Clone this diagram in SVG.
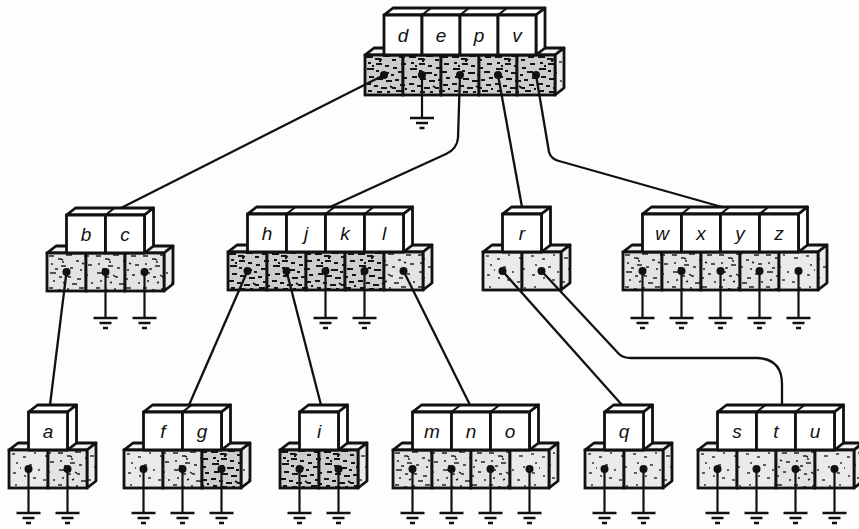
<svg xmlns="http://www.w3.org/2000/svg" width="859" height="529" viewBox="0 0 859 529">
<defs>
<pattern id="spk" patternUnits="userSpaceOnUse" width="47" height="41">
<rect width="47" height="41" fill="#e3e3e3"/>
<path d="M2,3h5M11,6h3l2,1M19,2h6M29,8h3M37,3h5M4,11h2M14,13h5M23,15h3M33,17h2M41,12h4M3,20h6M12,24h3M19,22l3,2h2M30,26h4M38,22h3M6,28h2M25,31h5M15,9h2M8,16h3M44,30h2M2,35h4M11,37h3M20,36h2M32,35h5M40,38h4M16,30l2,-1M35,10l2,1" stroke="#222" stroke-width="1.5" fill="none"/>
</pattern>
<pattern id="spkd" patternUnits="userSpaceOnUse" width="43" height="39">
<rect width="43" height="39" fill="#cdcdcd"/>
<path d="M1,2h7M10,4h5l2,1M18,1h7M27,5h4M34,2h6M3,8h3M11,9h6M20,11h4M28,13h4M36,9h5M2,14h7M11,16h3M17,18h7M26,20h3M33,17h6M4,22h5M12,24h6M21,26h6M30,25h4M38,23h4M7,11h2M14,6h2M1,29h5M9,31h4M16,33h6M25,31l3,2h3M35,30h5M3,36h4M12,37h5M22,37h3M31,36h6M40,34h2" stroke="#131313" stroke-width="1.8" fill="none"/>
</pattern>
<pattern id="spks" patternUnits="userSpaceOnUse" width="45" height="43">
<rect width="45" height="43" fill="#eaeaea"/>
<path d="M3,4h3M14,7h3M25,3h2M36,6h4M7,13h2M20,15h3M29,20h2M40,17h2M4,23h3M15,26h2M24,28h3M11,18h1M34,30h3M6,35h2M19,38h3M30,39h2M41,36h2" stroke="#333" stroke-width="1.4" fill="none"/>
</pattern>
<g id="gnd"><path d="M-12,0H12M-6,5H6M-2.5,10H2.5" stroke="#111" stroke-width="2.3" fill="none"/></g>
</defs>
<style>
.pt{fill:#f3f3f3;stroke:#111;stroke-width:2.8;stroke-linejoin:round}
.ps{fill:url(#spks);stroke:#111;stroke-width:2.8;stroke-linejoin:round}
.pc{fill:url(#spk);stroke:#111;stroke-width:2.8}
.pd{fill:url(#spkd);stroke:#111;stroke-width:2.8}
.pl{fill:url(#spks);stroke:#111;stroke-width:2.8}
.kb{fill:#fff;stroke:#111;stroke-width:2.8;stroke-linejoin:round}
.dv{stroke:#111;stroke-width:2.2}
.dot{fill:#111}
.stem{stroke:#111;stroke-width:2.2}
.lb{font-family:"Liberation Sans",Arial,sans-serif;font-style:italic;font-size:19px;fill:#111;text-anchor:middle}
.conn{fill:none;stroke:#111;stroke-width:2.3;stroke-linejoin:round}
</style>
<rect width="859" height="529" fill="#fdfdfd"/>

<!-- root -->
<g id="node-root" transform="translate(365,55)">
<polygon class="pt" points="0,0 9,-7 199,-7 190,0"/>
<polygon class="ps" points="190,0 199,-7 199,33 190,40"/>
<rect class="pd" x="0" y="0" width="38" height="40"/><rect class="pd" x="38" y="0" width="38" height="40"/><rect class="pd" x="76" y="0" width="38" height="40"/><rect class="pd" x="114" y="0" width="38" height="40"/><rect class="pd" x="152" y="0" width="38" height="40"/>
<polygon class="kb" points="19,-40 28,-47 180,-47 171,-40"/>
<path class="dv" d="M57,-40l9,-7M95,-40l9,-7M133,-40l9,-7"/>
<polygon class="kb" points="171,-40 180,-47 180,-7 171,0"/>
<rect class="kb" x="19" y="-40" width="38" height="40"/><rect class="kb" x="57" y="-40" width="38" height="40"/><rect class="kb" x="95" y="-40" width="38" height="40"/><rect class="kb" x="133" y="-40" width="38" height="40"/>
<text class="lb" x="38" y="-13">d</text><text class="lb" x="76" y="-13">e</text><text class="lb" x="114" y="-13">p</text><text class="lb" x="152" y="-13">v</text>
<circle class="dot" cx="19" cy="20" r="4"/><circle class="dot" cx="57" cy="20" r="4"/><circle class="dot" cx="95" cy="20" r="4"/><circle class="dot" cx="133" cy="20" r="4"/><circle class="dot" cx="171" cy="20" r="4"/>
<path class="stem" d="M57,20V63"/><use href="#gnd" x="57" y="63"/>
</g>

<!-- b c -->
<g id="node-bc" transform="translate(47,253)">
<polygon class="pt" points="0,0 9,-7 126,-7 117,0"/>
<polygon class="ps" points="117,0 126,-7 126,31 117,38"/>
<rect class="pc" x="0" y="0" width="39" height="38"/><rect class="pc" x="39" y="0" width="39" height="38"/><rect class="pc" x="78" y="0" width="39" height="38"/>
<polygon class="kb" points="19.5,-38 28.5,-45 106.5,-45 97.5,-38"/>
<path class="dv" d="M58.5,-38l9,-7"/>
<polygon class="kb" points="97.5,-38 106.5,-45 106.5,-7 97.5,0"/>
<rect class="kb" x="19.5" y="-38" width="39" height="38"/><rect class="kb" x="58.5" y="-38" width="39" height="38"/>
<text class="lb" x="39" y="-12">b</text><text class="lb" x="78" y="-12">c</text>
<circle class="dot" cx="19.5" cy="19" r="4"/><circle class="dot" cx="58.5" cy="19" r="4"/><circle class="dot" cx="97.5" cy="19" r="4"/>
<path class="stem" d="M58.5,19V65M97.5,19V65"/><use href="#gnd" x="58.5" y="65"/><use href="#gnd" x="97.5" y="65"/>
</g>

<!-- h j k l -->
<g id="node-hjkl" transform="translate(228,252)">
<polygon class="pt" points="0,0 9,-7 204,-7 195,0"/>
<polygon class="ps" points="195,0 204,-7 204,31 195,38"/>
<rect class="pd" x="0" y="0" width="39" height="38"/><rect class="pd" x="39" y="0" width="39" height="38"/><rect class="pd" x="78" y="0" width="39" height="38"/><rect class="pd" x="117" y="0" width="39" height="38"/><rect class="pc" x="156" y="0" width="39" height="38"/>
<polygon class="kb" points="19.5,-38 28.5,-45 184.5,-45 175.5,-38"/>
<path class="dv" d="M58.5,-38l9,-7M97.5,-38l9,-7M136.5,-38l9,-7"/>
<polygon class="kb" points="175.5,-38 184.5,-45 184.5,-7 175.5,0"/>
<rect class="kb" x="19.5" y="-38" width="39" height="38"/><rect class="kb" x="58.5" y="-38" width="39" height="38"/><rect class="kb" x="97.5" y="-38" width="39" height="38"/><rect class="kb" x="136.5" y="-38" width="39" height="38"/>
<text class="lb" x="39" y="-12">h</text><text class="lb" x="78" y="-12">j</text><text class="lb" x="117" y="-12">k</text><text class="lb" x="156" y="-12">l</text>
<circle class="dot" cx="19.5" cy="19" r="4"/><circle class="dot" cx="58.5" cy="19" r="4"/><circle class="dot" cx="97.5" cy="19" r="4"/><circle class="dot" cx="136.5" cy="19" r="4"/><circle class="dot" cx="175.5" cy="19" r="4"/>
<path class="stem" d="M97.5,19V66M136.5,19V66"/><use href="#gnd" x="97.5" y="66"/><use href="#gnd" x="136.5" y="66"/>
</g>

<!-- r -->
<g id="node-r" transform="translate(483,252)">
<polygon class="pt" points="0,0 9,-7 87,-7 78,0"/>
<polygon class="ps" points="78,0 87,-7 87,31 78,38"/>
<rect class="pl" x="0" y="0" width="39" height="38"/><rect class="pl" x="39" y="0" width="39" height="38"/>
<polygon class="kb" points="19.5,-38 28.5,-45 67.5,-45 58.5,-38"/>
<polygon class="kb" points="58.5,-38 67.5,-45 67.5,-7 58.5,0"/>
<rect class="kb" x="19.5" y="-38" width="39" height="38"/>
<text class="lb" x="39" y="-12">r</text>
<circle class="dot" cx="19.5" cy="19" r="4"/><circle class="dot" cx="58.5" cy="19" r="4"/>
</g>

<!-- w x y z -->
<g id="node-wxyz" transform="translate(623,252)">
<polygon class="pt" points="0,0 9,-7 204,-7 195,0"/>
<polygon class="ps" points="195,0 204,-7 204,31 195,38"/>
<rect class="pc" x="0" y="0" width="39" height="38"/><rect class="pc" x="39" y="0" width="39" height="38"/><rect class="pc" x="78" y="0" width="39" height="38"/><rect class="pc" x="117" y="0" width="39" height="38"/><rect class="pl" x="156" y="0" width="39" height="38"/>
<polygon class="kb" points="19.5,-38 28.5,-45 184.5,-45 175.5,-38"/>
<path class="dv" d="M58.5,-38l9,-7M97.5,-38l9,-7M136.5,-38l9,-7"/>
<polygon class="kb" points="175.5,-38 184.5,-45 184.5,-7 175.5,0"/>
<rect class="kb" x="19.5" y="-38" width="39" height="38"/><rect class="kb" x="58.5" y="-38" width="39" height="38"/><rect class="kb" x="97.5" y="-38" width="39" height="38"/><rect class="kb" x="136.5" y="-38" width="39" height="38"/>
<text class="lb" x="39" y="-12">w</text><text class="lb" x="78" y="-12">x</text><text class="lb" x="117" y="-12">y</text><text class="lb" x="156" y="-12">z</text>
<circle class="dot" cx="19.5" cy="19" r="4"/><circle class="dot" cx="58.5" cy="19" r="4"/><circle class="dot" cx="97.5" cy="19" r="4"/><circle class="dot" cx="136.5" cy="19" r="4"/><circle class="dot" cx="175.5" cy="19" r="4"/>
<path class="stem" d="M19.5,19V66M58.5,19V66M97.5,19V66M136.5,19V66M175.5,19V66"/>
<use href="#gnd" x="19.5" y="66"/><use href="#gnd" x="58.5" y="66"/><use href="#gnd" x="97.5" y="66"/><use href="#gnd" x="136.5" y="66"/><use href="#gnd" x="175.5" y="66"/>
</g>

<!-- a -->
<g id="node-a" transform="translate(9,450)">
<polygon class="pt" points="0,0 9,-7 87,-7 78,0"/>
<polygon class="ps" points="78,0 87,-7 87,31 78,38"/>
<rect class="pl" x="0" y="0" width="39" height="38"/><rect class="pc" x="39" y="0" width="39" height="38"/>
<polygon class="kb" points="19.5,-38 28.5,-45 67.5,-45 58.5,-38"/>
<polygon class="kb" points="58.5,-38 67.5,-45 67.5,-7 58.5,0"/>
<rect class="kb" x="19.5" y="-38" width="39" height="38"/>
<text class="lb" x="39" y="-12">a</text>
<circle class="dot" cx="19.5" cy="19" r="4"/><circle class="dot" cx="58.5" cy="19" r="4"/>
<path class="stem" d="M19.5,19V63M58.5,19V63"/><use href="#gnd" x="19.5" y="63"/><use href="#gnd" x="58.5" y="63"/>
</g>

<!-- f g -->
<g id="node-fg" transform="translate(124,450)">
<polygon class="pt" points="0,0 9,-7 126,-7 117,0"/>
<polygon class="ps" points="117,0 126,-7 126,31 117,38"/>
<rect class="pl" x="0" y="0" width="39" height="38"/><rect class="pc" x="39" y="0" width="39" height="38"/><rect class="pd" x="78" y="0" width="39" height="38"/>
<polygon class="kb" points="19.5,-38 28.5,-45 106.5,-45 97.5,-38"/>
<path class="dv" d="M58.5,-38l9,-7"/>
<polygon class="kb" points="97.5,-38 106.5,-45 106.5,-7 97.5,0"/>
<rect class="kb" x="19.5" y="-38" width="39" height="38"/><rect class="kb" x="58.5" y="-38" width="39" height="38"/>
<text class="lb" x="39" y="-12">f</text><text class="lb" x="78" y="-12">g</text>
<circle class="dot" cx="19.5" cy="19" r="4"/><circle class="dot" cx="58.5" cy="19" r="4"/><circle class="dot" cx="97.5" cy="19" r="4"/>
<path class="stem" d="M19.5,19V63M58.5,19V63M97.5,19V63"/><use href="#gnd" x="19.5" y="63"/><use href="#gnd" x="58.5" y="63"/><use href="#gnd" x="97.5" y="63"/>
</g>

<!-- i -->
<g id="node-i" transform="translate(280,450)">
<polygon class="pt" points="0,0 9,-7 87,-7 78,0"/>
<polygon class="ps" points="78,0 87,-7 87,31 78,38"/>
<rect class="pd" x="0" y="0" width="39" height="38"/><rect class="pd" x="39" y="0" width="39" height="38"/>
<polygon class="kb" points="19.5,-38 28.5,-45 67.5,-45 58.5,-38"/>
<polygon class="kb" points="58.5,-38 67.5,-45 67.5,-7 58.5,0"/>
<rect class="kb" x="19.5" y="-38" width="39" height="38"/>
<text class="lb" x="39" y="-12">i</text>
<circle class="dot" cx="19.5" cy="19" r="4"/><circle class="dot" cx="58.5" cy="19" r="4"/>
<path class="stem" d="M19.5,19V63M58.5,19V63"/><use href="#gnd" x="19.5" y="63"/><use href="#gnd" x="58.5" y="63"/>
</g>

<!-- m n o -->
<g id="node-mno" transform="translate(393,450)">
<polygon class="pt" points="0,0 9,-7 165,-7 156,0"/>
<polygon class="ps" points="156,0 165,-7 165,31 156,38"/>
<rect class="pc" x="0" y="0" width="39" height="38"/><rect class="pc" x="39" y="0" width="39" height="38"/><rect class="pc" x="78" y="0" width="39" height="38"/><rect class="pl" x="117" y="0" width="39" height="38"/>
<polygon class="kb" points="19.5,-38 28.5,-45 145.5,-45 136.5,-38"/>
<path class="dv" d="M58.5,-38l9,-7M97.5,-38l9,-7"/>
<polygon class="kb" points="136.5,-38 145.5,-45 145.5,-7 136.5,0"/>
<rect class="kb" x="19.5" y="-38" width="39" height="38"/><rect class="kb" x="58.5" y="-38" width="39" height="38"/><rect class="kb" x="97.5" y="-38" width="39" height="38"/>
<text class="lb" x="39" y="-12">m</text><text class="lb" x="78" y="-12">n</text><text class="lb" x="117" y="-12">o</text>
<circle class="dot" cx="19.5" cy="19" r="4"/><circle class="dot" cx="58.5" cy="19" r="4"/><circle class="dot" cx="97.5" cy="19" r="4"/><circle class="dot" cx="136.5" cy="19" r="4"/>
<path class="stem" d="M19.5,19V63M58.5,19V63M97.5,19V63M136.5,19V63"/>
<use href="#gnd" x="19.5" y="63"/><use href="#gnd" x="58.5" y="63"/><use href="#gnd" x="97.5" y="63"/><use href="#gnd" x="136.5" y="63"/>
</g>

<!-- q -->
<g id="node-q" transform="translate(585,450)">
<polygon class="pt" points="0,0 9,-7 87,-7 78,0"/>
<polygon class="ps" points="78,0 87,-7 87,31 78,38"/>
<rect class="pl" x="0" y="0" width="39" height="38"/><rect class="pl" x="39" y="0" width="39" height="38"/>
<polygon class="kb" points="19.5,-38 28.5,-45 67.5,-45 58.5,-38"/>
<polygon class="kb" points="58.5,-38 67.5,-45 67.5,-7 58.5,0"/>
<rect class="kb" x="19.5" y="-38" width="39" height="38"/>
<text class="lb" x="39" y="-12">q</text>
<circle class="dot" cx="19.5" cy="19" r="4"/><circle class="dot" cx="58.5" cy="19" r="4"/>
<path class="stem" d="M19.5,19V63M58.5,19V63"/><use href="#gnd" x="19.5" y="63"/><use href="#gnd" x="58.5" y="63"/>
</g>

<!-- s t u -->
<g id="node-stu" transform="translate(698,450)">
<polygon class="pt" points="0,0 9,-7 165,-7 156,0"/>
<polygon class="ps" points="156,0 165,-7 165,31 156,38"/>
<rect class="pl" x="0" y="0" width="39" height="38"/><rect class="pl" x="39" y="0" width="39" height="38"/><rect class="pc" x="78" y="0" width="39" height="38"/><rect class="pl" x="117" y="0" width="39" height="38"/>
<polygon class="kb" points="19.5,-38 28.5,-45 145.5,-45 136.5,-38"/>
<path class="dv" d="M58.5,-38l9,-7M97.5,-38l9,-7"/>
<polygon class="kb" points="136.5,-38 145.5,-45 145.5,-7 136.5,0"/>
<rect class="kb" x="19.5" y="-38" width="39" height="38"/><rect class="kb" x="58.5" y="-38" width="39" height="38"/><rect class="kb" x="97.5" y="-38" width="39" height="38"/>
<text class="lb" x="39" y="-12">s</text><text class="lb" x="78" y="-12">t</text><text class="lb" x="117" y="-12">u</text>
<circle class="dot" cx="19.5" cy="19" r="4"/><circle class="dot" cx="58.5" cy="19" r="4"/><circle class="dot" cx="97.5" cy="19" r="4"/><circle class="dot" cx="136.5" cy="19" r="4"/>
<path class="stem" d="M19.5,19V63M58.5,19V63M97.5,19V63M136.5,19V63"/>
<use href="#gnd" x="19.5" y="63"/><use href="#gnd" x="58.5" y="63"/><use href="#gnd" x="97.5" y="63"/><use href="#gnd" x="136.5" y="63"/>
</g>

<!-- connectors -->
<g id="connectors" class="conn">
<path d="M384,75L121,208"/>
<path d="M460,75L458,138Q457,149 446,154L330,207"/>
<path d="M498,75L522,207"/>
<path d="M536,75L549,152Q551,159 559,161L722,207"/>
<path d="M66.5,272L50,405"/>
<path d="M247.5,271L189,405"/>
<path d="M286.5,271L321,405"/>
<path d="M403.5,271L470,405"/>
<path d="M502.5,271L622,405"/>
<path d="M541.5,271L619,354Q623,358 631,358L757,358Q782,359 782,384L782,405"/>
</g>
</svg>
